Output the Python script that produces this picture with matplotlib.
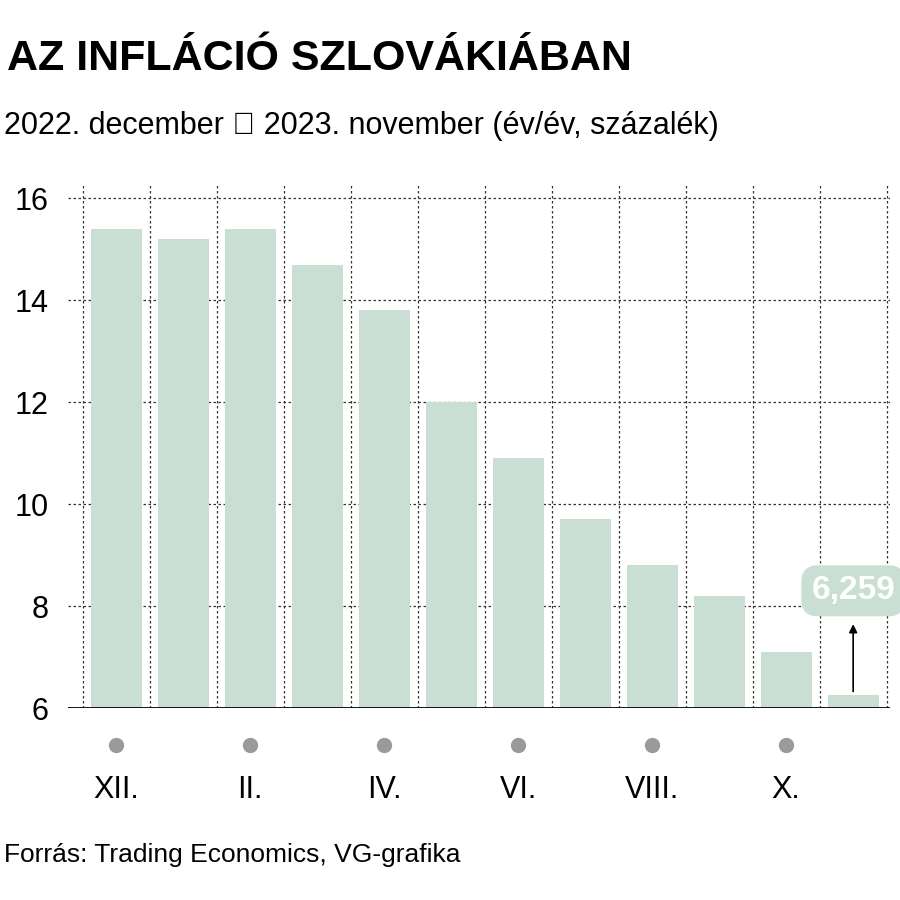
import matplotlib
matplotlib.use("Agg")
import matplotlib.pyplot as plt

months = ["XII.", "I.", "II.", "III.", "IV.", "V.", "VI.", "VII.", "VIII.", "IX.", "X.", "XI."]
values = [15.4, 15.2, 15.4, 14.7, 13.8, 12.0, 10.9, 9.7, 8.8, 8.2, 7.1, 6.259]
shown_labels = ["XII.", "II.", "IV.", "VI.", "VIII.", "X."]
last_label = "6,259"

plt.rcParams["font.family"] = "Liberation Sans"

fig = plt.figure(figsize=(9, 9), dpi=100)
ax = fig.add_axes([0.0756, 0.2133, 0.9133, 0.5833])
n = len(values)
xs = list(range(n))
ax.bar(xs, [v - 6 for v in values], bottom=6, width=0.76, color="#c9dfd4", zorder=2)
ax.set_xlim(-0.72, n - 0.45)
ax.set_ylim(6, 16.3)
for y in range(8, 17, 2):
    ax.axhline(y, color="#333333", ls=(0, (2, 2)), lw=0.9, zorder=1)
for i in range(n + 1):
    ax.axvline(i - 0.5, color="#333333", ls=(0, (2, 2)), lw=0.9, zorder=1)
ax.axhline(6, color="black", lw=2, zorder=3)
for s in ax.spines.values():
    s.set_visible(False)
ax.set_xticks([])
ax.set_yticks(range(6, 17, 2))
ax.tick_params(axis="y", length=0, labelsize=22, pad=14)
for i, m in enumerate(months):
    if m in shown_labels:
        ax.plot(i, 5.28, "o", color="#9a9a9a", ms=10, clip_on=False)
        ax.text(i, 4.4, m, ha="center", va="center", fontsize=22)

ax.annotate("", xy=(n - 1, 7.7), xytext=(n - 1, values[-1] + 0.01),
            arrowprops=dict(arrowstyle="-|>", color="black", lw=1.2, mutation_scale=12), zorder=4)
ax.text(n - 1, 8.3, last_label, ha="center", va="center", fontsize=24, fontweight="bold", color="white",
        bbox=dict(boxstyle="round,pad=0.3,rounding_size=0.5", fc="#c9dfd4", ec="none"), zorder=5)

fig.text(0.008, 0.935, "AZ INFLÁCIÓ SZLOVÁKIÁBAN", fontsize=31, fontweight="bold", va="center")
fig.text(0.005, 0.86, "2022. december ▶ 2023. november (év/év, százalék)", fontsize=22, va="center")
fig.text(0.005, 0.05, "Forrás: Trading Economics, VG-grafika", fontsize=19, va="center")
fig.savefig("out.png", dpi=100, facecolor="white")
